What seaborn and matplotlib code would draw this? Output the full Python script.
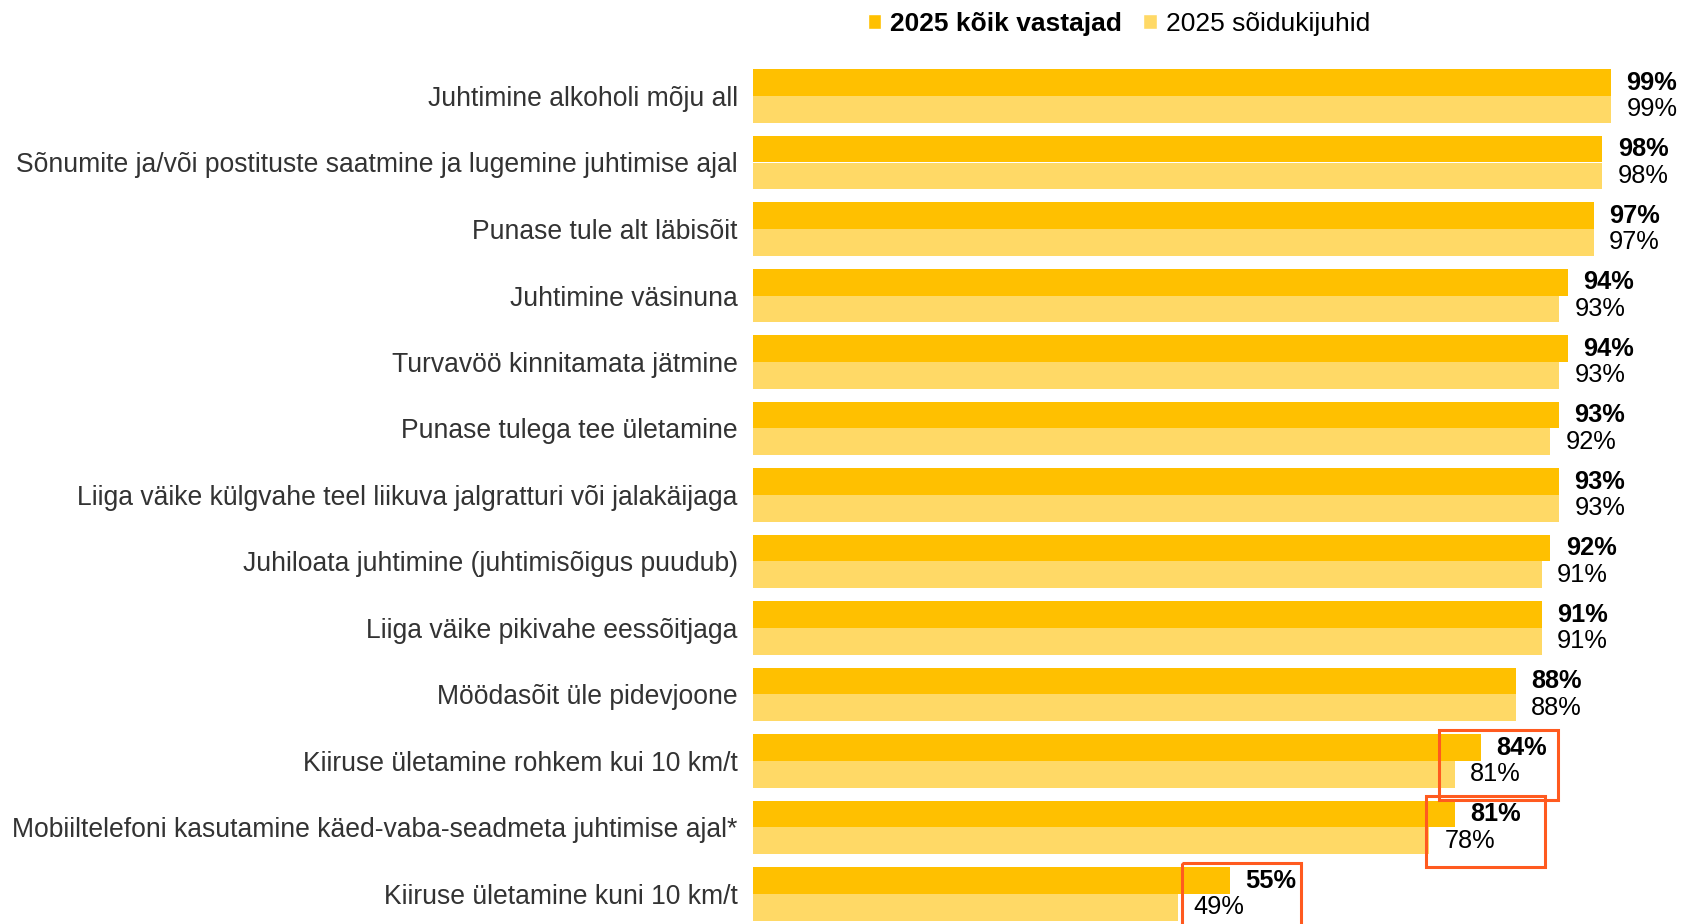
import pandas as pd
import matplotlib
matplotlib.use("Agg")
import matplotlib.pyplot as plt
import seaborn as sns
from matplotlib.patches import Rectangle, Patch

# Andmed
kategooriad = [
    "Juhtimine alkoholi mõju all",
    "Sõnumite ja/või postituste saatmine ja lugemine juhtimise ajal",
    "Punase tule alt läbisõit",
    "Juhtimine väsinuna",
    "Turvavöö kinnitamata jätmine",
    "Punase tulega tee ületamine",
    "Liiga väike külgvahe teel liikuva jalgratturi või jalakäijaga",
    "Juhiloata juhtimine (juhtimisõigus puudub)",
    "Liiga väike pikivahe eessõitjaga",
    "Möödasõit üle pidevjoone",
    "Kiiruse ületamine rohkem kui 10 km/t",
    "Mobiiltelefoni kasutamine käed-vaba-seadmeta juhtimise ajal*",
    "Kiiruse ületamine kuni 10 km/t",
]
koik_vastajad = [99, 98, 97, 94, 94, 93, 93, 92, 91, 88, 84, 81, 55]
soidukijuhid = [99, 98, 97, 93, 93, 92, 93, 91, 91, 88, 81, 78, 49]
seeriad = ["2025 kõik vastajad", "2025 sõidukijuhid"]
# esile tõstetud read (punane kast)
esile = [10, 11, 12]

df = pd.DataFrame({
    "Kategooria": kategooriad * 2,
    "Väärtus": koik_vastajad + soidukijuhid,
    "Seeria": [seeriad[0]] * len(kategooriad) + [seeriad[1]] * len(kategooriad),
})

sns.set_style("white")
plt.rcParams["font.family"] = ["Liberation Sans", "DejaVu Sans"]

fig = plt.figure(figsize=(16.83, 9.24), dpi=100)
ax = fig.add_axes([753 / 1683, 0, 1 - 753 / 1683, 1])

sns.barplot(data=df, y="Kategooria", x="Väärtus", hue="Seeria", orient="h",
            palette=["#FFC000", "#FFD966"], width=0.8, saturation=1,
            legend=False, ax=ax)

for bar in ax.patches:
    bar.set_edgecolor("none")

ax.set_xlim(0, 930 / 8.667)
ax.set_ylim(12 + 30 / 66.5, -96 / 66.5)
ax.set_xlabel("")
ax.set_ylabel("")
ax.set_xticks([])
sns.despine(ax=ax, left=True, bottom=True)
ax.tick_params(axis="y", length=0, pad=11, labelsize=19.1, labelcolor="#333333")

# väärtuste sildid
ax.bar_label(ax.containers[0], fmt="%d%%", padding=11, fontsize=18.3,
             fontweight="bold", color="black")
ax.bar_label(ax.containers[1], fmt="%d%%", padding=11, fontsize=18.3,
             color="black")

# punased kastid
kasti_nihe = [-1.85, -0.35, 0.5]
for i, nihe in zip(esile, kasti_nihe):
    x0 = soidukijuhid[i] + nihe
    ax.add_patch(Rectangle((x0, i - 0.47), 13.7, 1.06, fill=False,
                           edgecolor="#FF5A1F", linewidth=2.2, clip_on=False))

# legend
kasitsed = [Patch(facecolor="#FFC000"), Patch(facecolor="#FFD966")]
leg = fig.legend(kasitsed, seeriad, loc="center left",
                 bbox_to_anchor=(868 / 1683, 1 - 24 / 924), ncol=2, frameon=False,
                 fontsize=19, handlelength=0.5, handleheight=0.5,
                 handletextpad=0.35, columnspacing=0.8, borderaxespad=0,
                 borderpad=0)
leg.get_texts()[0].set_fontweight("bold")
for t in leg.get_texts():
    t.set_color("black")

fig.savefig("out.png", dpi=100)
